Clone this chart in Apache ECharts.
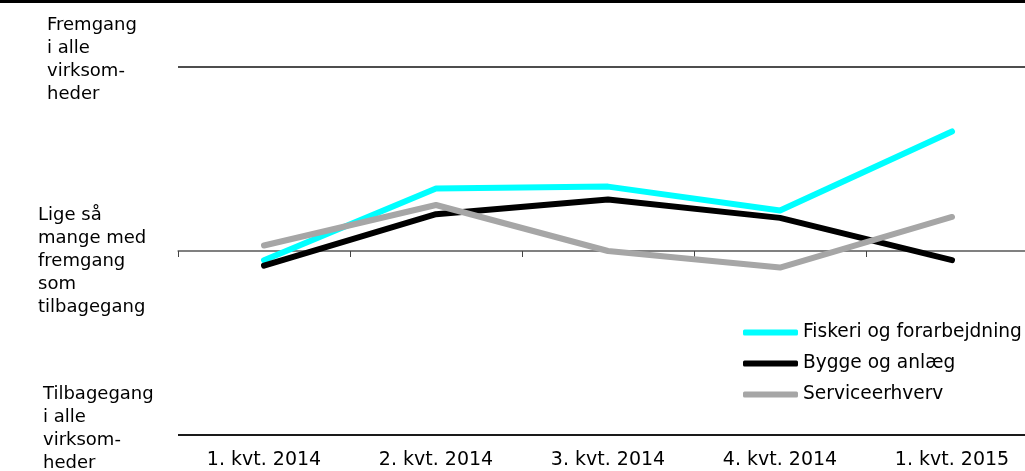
<!DOCTYPE html>
<html><head><meta charset="utf-8">
<script src="https://cdn.jsdelivr.net/npm/echarts@6/dist/echarts.min.js"></script>
<style>html,body{margin:0;padding:0;background:#fff}#c{width:1025px;height:471px}</style>
</head><body><div id="c"></div>
<script>
const categories = ['1. kvt. 2014', '2. kvt. 2014', '3. kvt. 2014', '4. kvt. 2014', '1. kvt. 2015'];
const fiskeri = [-5, 34, 35, 22, 65];
const bygge = [-8, 20, 28, 18, -5];
const service = [3, 25, 0, -9, 18.5];
const seriesNames = ['Fiskeri og forarbejdning', 'Bygge og anlæg', 'Serviceerhverv'];
const yTickLabels = {
  '100': ['Fremgang', 'i alle', 'virksom-', 'heder'],
  '0': ['Lige så', 'mange med', 'fremgang', 'som', 'tilbagegang'],
  '-100': ['Tilbagegang', 'i alle', 'virksom-', 'heder']
};
const FONT = 'DejaVu Sans';
const chart = echarts.init(document.getElementById('c'));
const styleKey = {'100': 't', '0': 'm', '-100': 'b'};
const base = {fontSize: 18, lineHeight: 23, fontFamily: FONT, color: '#000'};
chart.setOption({
  animation: false,
  textStyle: {fontFamily: FONT},
  graphic: [{type: 'rect', left: 0, top: 0, shape: {width: 1025, height: 3}, style: {fill: '#000'}}],
  grid: {left: 178, right: -13, top: 67, bottom: 36, outerBoundsMode: 'none', containLabel: false},
  legend: {
    orient: 'vertical', left: 743, top: 323, padding: 0, itemWidth: 55, itemHeight: 6, itemGap: 12,
    icon: 'roundRect',
    textStyle: {fontSize: 18.6, color: '#000', fontFamily: FONT},
    data: seriesNames
  },
  xAxis: [{
    type: 'category', data: categories,
    axisLine: {onZero: true, lineStyle: {color: '#808080', width: 1.5}},
    axisTick: {show: true, length: 6, lineStyle: {color: '#444', width: 1}},
    axisLabel: {show: false}
  }, {
    type: 'category', data: categories, position: 'bottom',
    axisLine: {show: false, onZero: false}, axisTick: {show: false},
    axisLabel: {margin: 16, fontSize: 19, color: '#000', fontFamily: FONT}
  }],
  yAxis: {
    type: 'value', min: -100, max: 100, interval: 100,
    axisLine: {show: false}, axisTick: {show: false},
    splitLine: {lineStyle: {color: ['#1a1a1a', '#808080', '#4d4d4d'], width: 2}},
    axisLabel: {
      align: 'left', margin: 140, color: '#000', fontSize: 18, fontFamily: FONT,
      formatter: v => {
        const k = String(v);
        const lines = yTickLabels[k] || [];
        const s = styleKey[k];
        const body = lines.map(l => '{' + s + '|' + l + '}');
        if (k === '100') body.push('{sp14| }');
        if (k === '0') body.unshift('{sp20| }');
        if (k === '-100') body.push('{sp12| }');
        return body.join('\n');
      },
      rich: {
        t: Object.assign({}, base, {padding: [0, 0, 0, 9]}),
        m: Object.assign({}, base, {padding: [0, 0, 0, 0]}),
        b: Object.assign({}, base, {padding: [0, 0, 0, 5]}),
        sp14: {fontSize: 8, lineHeight: 14, height: 14},
        sp20: {fontSize: 8, lineHeight: 20, height: 20},
        sp12: {fontSize: 8, lineHeight: 12, height: 12}
      }
    }
  },
  series: [
    {name: seriesNames[0], type: 'line', data: fiskeri, symbol: 'none', color: '#00FFFF', lineStyle: {width: 6, color: '#00FFFF', cap: 'round', join: 'round'}},
    {name: seriesNames[1], type: 'line', data: bygge, symbol: 'none', color: '#000000', lineStyle: {width: 6, color: '#000000', cap: 'round', join: 'round'}},
    {name: seriesNames[2], type: 'line', data: service, symbol: 'none', color: '#A6A6A6', lineStyle: {width: 6, color: '#A6A6A6', cap: 'round', join: 'round'}}
  ]
});
</script></body></html>
